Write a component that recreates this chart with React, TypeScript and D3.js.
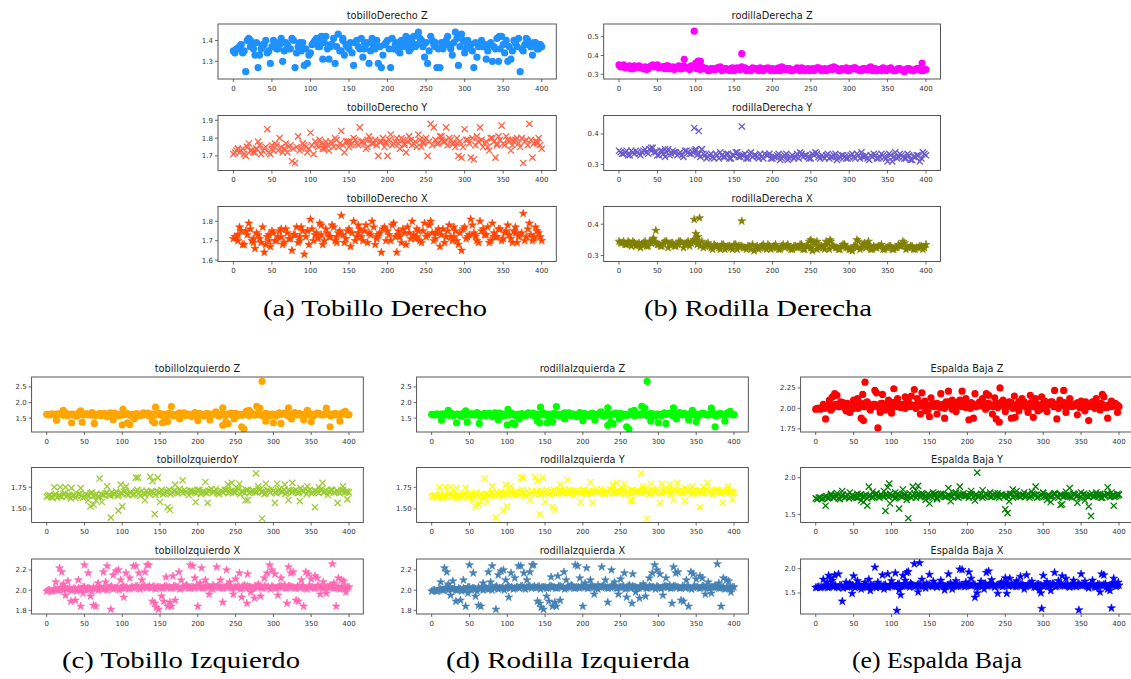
import * as d3 from "d3";
import React from "react";

// x axis is the frame index 0..400
const xTicks = [0, 50, 100, 150, 200, 250, 300, 350, 400];

type Pt = [number, number];

// ---- (a) tobillo derecho
// *Z / *Y / *X: readings at frames 0,4,...,400 ; *Mid: frames 2,6,...,398 ; *Extra: stray points [frame, value]
const tobilloDerechoZ = [
  1.35, 1.36, 1.37, 1.34, 1.25, 1.41, 1.38, 1.33, 1.27, 1.36, 1.38, 1.34, 1.29, 1.4, 1.36, 1.38, 1.3, 1.39, 1.36, 1.41,
  1.27, 1.37, 1.35, 1.28, 1.29, 1.34, 1.39, 1.41, 1.37, 1.31, 1.42, 1.31, 1.38, 1.29, 1.43, 1.35, 1.33, 1.37, 1.39, 1.28,
  1.4, 1.36, 1.32, 1.38, 1.29, 1.41, 1.36, 1.29, 1.27, 1.38, 1.4, 1.27, 1.36, 1.39, 1.34, 1.38, 1.42, 1.35, 1.39, 1.37,
  1.44, 1.4, 1.32, 1.29, 1.42, 1.38, 1.27, 1.27, 1.36, 1.4, 1.38, 1.33, 1.44, 1.28, 1.43, 1.34, 1.4, 1.38, 1.27, 1.32,
  1.39, 1.37, 1.31, 1.38, 1.3, 1.36, 1.3, 1.42, 1.34, 1.3, 1.31, 1.4, 1.37, 1.25, 1.35, 1.41, 1.38, 1.33, 1.39, 1.36, 1.37,
];
const tobilloDerechoZMid = [
  1.34, 1.36, 1.38, 1.35, 1.4, 1.37, 1.36, 1.39, 1.33, 1.38, 1.4, 1.35, 1.37, 1.39, 1.36, 1.41, 1.35, 1.38, 1.36, 1.4,
  1.34, 1.37, 1.39, 1.36, 1.33, 1.38, 1.4, 1.37, 1.42, 1.39, 1.36, 1.38, 1.41, 1.37, 1.35, 1.4, 1.38, 1.36, 1.34, 1.39,
  1.37, 1.41, 1.36, 1.39, 1.35, 1.38, 1.4, 1.37, 1.33, 1.39, 1.36, 1.41, 1.38, 1.35, 1.4, 1.37, 1.39, 1.36, 1.42, 1.38,
  1.41, 1.37, 1.39, 1.35, 1.4, 1.37, 1.36, 1.39, 1.38, 1.42, 1.36, 1.39, 1.41, 1.37, 1.4, 1.36, 1.38, 1.35, 1.39, 1.37,
  1.4, 1.38, 1.35, 1.39, 1.37, 1.41, 1.36, 1.38, 1.4, 1.37, 1.35, 1.39, 1.41, 1.36, 1.38, 1.4, 1.37, 1.39, 1.36, 1.38,
];
const tobilloDerechoZExtra: Pt[] = [
  [10, 1.38], [22, 1.4], [38, 1.37], [55, 1.39], [70, 1.37], [86, 1.39], [110, 1.4], [126, 1.37], [142, 1.41],
  [170, 1.39], [182, 1.37], [215, 1.37], [230, 1.41], [262, 1.39], [282, 1.37], [302, 1.39], [326, 1.38], [345, 1.42],
  [366, 1.39], [386, 1.37], [398, 1.38],
];

const tobilloDerechoY = [
  1.71, 1.73, 1.72, 1.74, 1.7, 1.77, 1.73, 1.72, 1.78, 1.71, 1.74, 1.85, 1.71, 1.73, 1.76, 1.8, 1.72, 1.77, 1.75, 1.67,
  1.66, 1.81, 1.74, 1.76, 1.72, 1.83, 1.71, 1.76, 1.79, 1.74, 1.78, 1.73, 1.77, 1.8, 1.75, 1.84, 1.72, 1.78, 1.76, 1.8,
  1.77, 1.86, 1.78, 1.74, 1.81, 1.77, 1.79, 1.7, 1.78, 1.75, 1.7, 1.82, 1.77, 1.8, 1.74, 1.79, 1.72, 1.81, 1.76, 1.78,
  1.82, 1.75, 1.79, 1.7, 1.88, 1.86, 1.77, 1.81, 1.78, 1.86, 1.8, 1.77, 1.75, 1.7, 1.69, 1.85, 1.79, 1.69, 1.68, 1.81,
  1.86, 1.75, 1.78, 1.73, 1.8, 1.69, 1.81, 1.87, 1.76, 1.79, 1.73, 1.78, 1.8, 1.75, 1.66, 1.79, 1.88, 1.69, 1.78, 1.8, 1.74,
];
const tobilloDerechoYMid = [
  1.72, 1.74, 1.73, 1.71, 1.75, 1.73, 1.72, 1.74, 1.76, 1.73, 1.75, 1.72, 1.74, 1.77, 1.73, 1.75, 1.74, 1.72, 1.76, 1.74,
  1.75, 1.73, 1.77, 1.75, 1.74, 1.76, 1.78, 1.75, 1.77, 1.74, 1.76, 1.78, 1.75, 1.79, 1.77, 1.76, 1.78, 1.75, 1.77, 1.79,
  1.76, 1.78, 1.77, 1.75, 1.79, 1.77, 1.76, 1.78, 1.8, 1.77, 1.79, 1.76, 1.78, 1.77, 1.8, 1.76, 1.78, 1.79, 1.77, 1.75,
  1.79, 1.77, 1.8, 1.78, 1.76, 1.79, 1.77, 1.81, 1.78, 1.76, 1.79, 1.77, 1.8, 1.78, 1.75, 1.79, 1.77, 1.8, 1.76, 1.78,
  1.79, 1.77, 1.75, 1.8, 1.78, 1.76, 1.79, 1.77, 1.81, 1.78, 1.76, 1.79, 1.77, 1.8, 1.78, 1.76, 1.79, 1.77, 1.78, 1.76,
];
const tobilloDerechoYExtra: Pt[] = [
  [6, 1.74], [18, 1.75], [30, 1.74], [50, 1.76], [66, 1.74], [90, 1.77], [118, 1.76], [150, 1.78], [174, 1.79],
  [198, 1.78], [222, 1.77], [246, 1.78], [270, 1.79], [290, 1.77], [318, 1.78], [342, 1.77], [362, 1.79], [394, 1.77],
];

const tobilloDerechoX = [
  1.71, 1.72, 1.77, 1.68, 1.75, 1.79, 1.7, 1.66, 1.73, 1.69, 1.64, 1.72, 1.67, 1.74, 1.7, 1.75, 1.68, 1.76, 1.71, 1.65,
  1.73, 1.69, 1.77, 1.63, 1.75, 1.81, 1.7, 1.74, 1.79, 1.68, 1.76, 1.72, 1.78, 1.7, 1.74, 1.83, 1.69, 1.75, 1.67, 1.8,
  1.72, 1.76, 1.7, 1.78, 1.74, 1.8, 1.68, 1.73, 1.64, 1.77, 1.75, 1.7, 1.79, 1.64, 1.72, 1.76, 1.68, 1.74, 1.8, 1.71,
  1.75, 1.69, 1.79, 1.73, 1.8, 1.7, 1.74, 1.67, 1.76, 1.72, 1.78, 1.7, 1.75, 1.68, 1.65, 1.77, 1.72, 1.81, 1.74, 1.7,
  1.8, 1.76, 1.73, 1.69, 1.79, 1.72, 1.76, 1.7, 1.74, 1.78, 1.71, 1.75, 1.69, 1.73, 1.84, 1.72, 1.79, 1.7, 1.77, 1.74, 1.7,
];
const tobilloDerechoXMid = [
  1.72, 1.7, 1.75, 1.68, 1.73, 1.76, 1.69, 1.74, 1.71, 1.77, 1.68, 1.73, 1.75, 1.7, 1.72, 1.76, 1.69, 1.74, 1.71, 1.73,
  1.77, 1.7, 1.75, 1.72, 1.68, 1.76, 1.73, 1.71, 1.78, 1.7, 1.74, 1.72, 1.77, 1.69, 1.75, 1.73, 1.71, 1.76, 1.74, 1.7,
  1.78, 1.72, 1.75, 1.69, 1.73, 1.77, 1.71, 1.74, 1.76, 1.7, 1.73, 1.78, 1.72, 1.75, 1.69, 1.74, 1.77, 1.71, 1.73, 1.76,
  1.7, 1.75, 1.72, 1.78, 1.74, 1.71, 1.76, 1.73, 1.69, 1.75, 1.72, 1.77, 1.7, 1.74, 1.76, 1.71, 1.73, 1.78, 1.72, 1.69,
  1.75, 1.73, 1.77, 1.7, 1.74, 1.72, 1.76, 1.71, 1.75, 1.73, 1.69, 1.77, 1.72, 1.74, 1.7, 1.76, 1.73, 1.71, 1.75, 1.72,
];
const tobilloDerechoXExtra: Pt[] = [
  [6, 1.73], [26, 1.71], [46, 1.7], [62, 1.72], [86, 1.72], [114, 1.73], [134, 1.72], [162, 1.74], [186, 1.72],
  [214, 1.73], [238, 1.72], [262, 1.74], [286, 1.72], [314, 1.73], [338, 1.72], [366, 1.74], [390, 1.72],
];

// ---- (b) rodilla derecha
const rodillaDerechaZ = [
  0.35, 0.345, 0.335, 0.34, 0.33, 0.345, 0.335, 0.34, 0.33, 0.325, 0.34, 0.35, 0.345, 0.335, 0.34, 0.33, 0.345, 0.335,
  0.325, 0.34, 0.33, 0.345, 0.335, 0.325, 0.34, 0.335, 0.345, 0.34, 0.33, 0.32, 0.33, 0.325, 0.335, 0.34, 0.325, 0.33,
  0.32, 0.335, 0.325, 0.33, 0.34, 0.335, 0.325, 0.32, 0.33, 0.325, 0.335, 0.32, 0.33, 0.325, 0.33, 0.32, 0.335, 0.34,
  0.325, 0.33, 0.32, 0.325, 0.335, 0.32, 0.33, 0.325, 0.32, 0.33, 0.325, 0.335, 0.32, 0.33, 0.325, 0.335, 0.34, 0.33,
  0.32, 0.325, 0.335, 0.32, 0.33, 0.335, 0.325, 0.32, 0.33, 0.325, 0.34, 0.33, 0.32, 0.325, 0.335, 0.32, 0.33, 0.325,
  0.32, 0.33, 0.325, 0.315, 0.33, 0.325, 0.32, 0.33, 0.325, 0.32, 0.325,
];
const rodillaDerechaZMid = [
  0.34, 0.35, 0.335, 0.345, 0.33, 0.34, 0.345, 0.335, 0.34, 0.33, 0.345, 0.34, 0.35, 0.335, 0.34, 0.345, 0.33, 0.34,
  0.335, 0.345, 0.33, 0.34, 0.335, 0.345, 0.34, 0.33, 0.325, 0.335, 0.33, 0.32, 0.33, 0.325, 0.335, 0.32, 0.33, 0.325,
  0.33, 0.32, 0.335, 0.325, 0.33, 0.32, 0.325, 0.335, 0.33, 0.32, 0.325, 0.33, 0.335, 0.32, 0.325, 0.33, 0.32, 0.335,
  0.325, 0.33, 0.32, 0.325, 0.33, 0.335, 0.32, 0.33, 0.325, 0.32, 0.335, 0.33, 0.325, 0.32, 0.33, 0.325, 0.335, 0.32,
  0.33, 0.325, 0.32, 0.33, 0.335, 0.325, 0.32, 0.33, 0.325, 0.335, 0.32, 0.33, 0.325, 0.32, 0.33, 0.325, 0.335, 0.32,
  0.325, 0.33, 0.32, 0.325, 0.33, 0.32, 0.325, 0.33, 0.32, 0.325,
];
const rodillaDerechaZExtra: Pt[] = [
  [85, 0.38], [98, 0.53], [100, 0.36], [103, 0.37], [106, 0.37], [160, 0.41], [395, 0.36],
];

const rodillaDerechaY = [
  0.345, 0.335, 0.34, 0.33, 0.345, 0.335, 0.34, 0.33, 0.345, 0.34, 0.35, 0.355, 0.34, 0.33, 0.345, 0.325, 0.35, 0.335,
  0.34, 0.33, 0.34, 0.325, 0.345, 0.335, 0.34, 0.345, 0.335, 0.35, 0.33, 0.325, 0.335, 0.32, 0.33, 0.34, 0.325, 0.335,
  0.32, 0.33, 0.34, 0.325, 0.33, 0.335, 0.32, 0.34, 0.33, 0.325, 0.335, 0.32, 0.33, 0.335, 0.32, 0.325, 0.335, 0.32,
  0.33, 0.315, 0.325, 0.32, 0.335, 0.34, 0.325, 0.33, 0.32, 0.335, 0.34, 0.325, 0.33, 0.32, 0.335, 0.325, 0.33, 0.315,
  0.325, 0.33, 0.32, 0.325, 0.335, 0.32, 0.33, 0.34, 0.325, 0.32, 0.33, 0.335, 0.32, 0.325, 0.33, 0.32, 0.335, 0.31,
  0.34, 0.325, 0.33, 0.32, 0.335, 0.315, 0.325, 0.33, 0.31, 0.34, 0.33,
];
const rodillaDerechaYMid = [
  0.34, 0.335, 0.345, 0.33, 0.34, 0.345, 0.335, 0.34, 0.35, 0.335, 0.345, 0.34, 0.33, 0.345, 0.335, 0.34, 0.33, 0.345,
  0.34, 0.335, 0.33, 0.345, 0.34, 0.335, 0.345, 0.33, 0.325, 0.335, 0.32, 0.33, 0.325, 0.335, 0.32, 0.33, 0.325, 0.335,
  0.32, 0.33, 0.34, 0.325, 0.33, 0.32, 0.335, 0.325, 0.33, 0.32, 0.325, 0.335, 0.33, 0.32, 0.325, 0.33, 0.315, 0.325,
  0.335, 0.32, 0.33, 0.325, 0.32, 0.335, 0.33, 0.325, 0.32, 0.33, 0.335, 0.32, 0.325, 0.33, 0.32, 0.325, 0.335, 0.32,
  0.33, 0.325, 0.32, 0.33, 0.325, 0.335, 0.32, 0.325, 0.33, 0.315, 0.325, 0.33, 0.32, 0.335, 0.325, 0.31, 0.33, 0.325,
  0.32, 0.335, 0.325, 0.32, 0.33, 0.315, 0.325, 0.33, 0.32, 0.335,
];
const rodillaDerechaYExtra: Pt[] = [
  [40, 0.35], [42, 0.355], [60, 0.35], [98, 0.42], [100, 0.35], [104, 0.41], [108, 0.35], [160, 0.425],
];

const rodillaDerechaX = [
  0.345, 0.34, 0.335, 0.345, 0.33, 0.34, 0.335, 0.325, 0.34, 0.33, 0.345, 0.35, 0.34, 0.335, 0.33, 0.345, 0.325, 0.34,
  0.33, 0.335, 0.345, 0.325, 0.34, 0.33, 0.345, 0.35, 0.34, 0.345, 0.33, 0.34, 0.325, 0.335, 0.33, 0.32, 0.335, 0.325,
  0.33, 0.32, 0.335, 0.33, 0.33, 0.325, 0.33, 0.32, 0.315, 0.33, 0.325, 0.335, 0.32, 0.33, 0.325, 0.335, 0.32, 0.33,
  0.325, 0.335, 0.32, 0.33, 0.325, 0.335, 0.32, 0.33, 0.345, 0.315, 0.34, 0.325, 0.33, 0.32, 0.34, 0.345, 0.33, 0.325,
  0.32, 0.335, 0.325, 0.32, 0.315, 0.33, 0.345, 0.325, 0.34, 0.335, 0.32, 0.33, 0.325, 0.33, 0.32, 0.325, 0.33, 0.32,
  0.325, 0.335, 0.33, 0.34, 0.325, 0.33, 0.32, 0.325, 0.33, 0.32, 0.335,
];
const rodillaDerechaXMid = [
  0.34, 0.345, 0.335, 0.34, 0.345, 0.33, 0.34, 0.335, 0.345, 0.33, 0.34, 0.345, 0.335, 0.33, 0.34, 0.345, 0.335, 0.34,
  0.33, 0.345, 0.34, 0.335, 0.345, 0.34, 0.35, 0.335, 0.33, 0.325, 0.335, 0.33, 0.32, 0.33, 0.325, 0.335, 0.32, 0.33,
  0.325, 0.335, 0.32, 0.33, 0.325, 0.32, 0.33, 0.335, 0.325, 0.32, 0.33, 0.325, 0.335, 0.32, 0.33, 0.325, 0.32, 0.335,
  0.33, 0.325, 0.32, 0.33, 0.325, 0.335, 0.32, 0.33, 0.325, 0.34, 0.32, 0.33, 0.325, 0.335, 0.32, 0.33, 0.325, 0.32,
  0.33, 0.335, 0.325, 0.32, 0.33, 0.325, 0.32, 0.335, 0.325, 0.33, 0.32, 0.325, 0.33, 0.335, 0.32, 0.325, 0.33, 0.32,
  0.325, 0.33, 0.335, 0.32, 0.325, 0.33, 0.32, 0.325, 0.33, 0.325,
];
const rodillaDerechaXExtra: Pt[] = [
  [45, 0.355], [48, 0.38], [98, 0.415], [100, 0.37], [103, 0.36], [105, 0.42], [160, 0.41], [250, 0.35], [258, 0.345],
  [270, 0.345], [275, 0.35], [310, 0.35], [325, 0.345], [370, 0.345],
];

// ---- (c) tobillo izquierdo, (d) rodilla izquierda (same readings in both panels)
const tobilloIzquierdoZ = [
  1.62, 1.6, 1.63, 1.59, 1.61, 1.66, 1.64, 1.58, 1.62, 1.6, 1.56, 1.65, 1.61, 1.64, 1.6, 1.68, 1.57, 1.62, 1.58, 1.65,
  1.55, 1.67, 1.61, 1.63, 1.58, 1.6, 1.66, 1.62, 1.57, 1.52, 1.64, 1.58, 1.67, 1.62, 1.56, 1.63, 1.6, 1.66, 1.59, 1.55,
  1.64, 1.61, 1.57, 1.62, 1.67, 1.65, 1.58, 1.63, 1.55, 1.68, 1.6, 1.61, 1.57, 1.65, 1.62, 1.62, 1.7, 1.56, 1.61, 1.59,
  1.63, 1.66, 1.6, 1.57, 1.62, 1.61, 1.72, 1.58, 1.64, 1.6, 1.65, 1.59, 1.6, 1.64, 1.57, 1.62, 1.58, 1.67, 1.63, 1.64,
  1.56, 1.63, 1.68, 1.6, 1.62, 1.59, 1.65, 1.61, 1.55, 1.63, 1.65, 1.6, 1.62, 1.66, 1.57, 1.61, 1.6, 1.63, 1.68, 1.63, 1.61,
];
const tobilloIzquierdoZMid = [
  1.61, 1.63, 1.6, 1.64, 1.62, 1.59, 1.65, 1.61, 1.63, 1.58, 1.66, 1.62, 1.6, 1.64, 1.61, 1.63, 1.59, 1.65, 1.62, 1.6,
  1.64, 1.61, 1.66, 1.59, 1.63, 1.61, 1.65, 1.6, 1.62, 1.64, 1.58, 1.63, 1.61, 1.66, 1.62, 1.6, 1.64, 1.61, 1.63, 1.59,
  1.65, 1.62, 1.6, 1.64, 1.61, 1.67, 1.62, 1.59, 1.63, 1.61, 1.65, 1.6, 1.62, 1.64, 1.61, 1.66, 1.59, 1.63, 1.62, 1.6,
  1.64, 1.61, 1.65, 1.62, 1.59, 1.63, 1.61, 1.66, 1.6, 1.64, 1.62, 1.58, 1.65, 1.61, 1.63, 1.6, 1.64, 1.62, 1.66, 1.61,
  1.59, 1.63, 1.62, 1.65, 1.6, 1.64, 1.61, 1.63, 1.59, 1.66, 1.62, 1.6, 1.64, 1.61, 1.63, 1.65, 1.6, 1.62, 1.64, 1.61,
];
const tobilloIzquierdoZExtra: Pt[] = [
  [13, 1.43], [22, 1.75], [33, 1.35], [45, 1.73], [47, 1.37], [63, 1.33], [88, 1.45], [100, 1.28], [101, 1.78],
  [107, 1.35], [110, 1.29], [116, 1.48], [140, 1.4], [143, 1.35], [144, 1.85], [153, 1.35], [160, 1.39], [165, 1.87],
  [176, 1.47], [200, 1.42], [216, 1.44], [233, 1.83], [233, 1.27], [237, 1.37], [240, 1.32], [248, 1.47], [258, 1.22],
  [261, 1.15], [268, 1.75], [278, 1.88], [282, 1.82], [285, 2.68], [290, 1.4], [300, 1.35], [310, 1.33], [320, 1.83],
  [324, 1.47], [340, 1.45], [345, 1.75], [350, 1.38], [370, 1.82], [375, 1.22], [388, 1.4], [395, 1.72],
];

const tobilloIzquierdoY = [
  1.64, 1.66, 1.63, 1.67, 1.65, 1.64, 1.68, 1.66, 1.62, 1.66, 1.65, 1.67, 1.63, 1.67, 1.65, 1.69, 1.66, 1.64, 1.67, 1.66,
  1.69, 1.65, 1.67, 1.7, 1.66, 1.68, 1.71, 1.66, 1.69, 1.67, 1.72, 1.65, 1.68, 1.71, 1.67, 1.7, 1.66, 1.69, 1.72, 1.68,
  1.7, 1.67, 1.71, 1.69, 1.73, 1.68, 1.7, 1.66, 1.71, 1.69, 1.72, 1.67, 1.7, 1.68, 1.71, 1.69, 1.73, 1.67, 1.7, 1.72,
  1.68, 1.71, 1.69, 1.74, 1.67, 1.7, 1.72, 1.68, 1.71, 1.69, 1.73, 1.7, 1.67, 1.72, 1.69, 1.71, 1.68, 1.73, 1.7, 1.67,
  1.72, 1.69, 1.71, 1.68, 1.74, 1.7, 1.67, 1.72, 1.69, 1.71, 1.68, 1.73, 1.7, 1.66, 1.72, 1.69, 1.71, 1.68, 1.72, 1.7, 1.69,
];
const tobilloIzquierdoYMid = [
  1.65, 1.64, 1.66, 1.63, 1.65, 1.67, 1.64, 1.66, 1.65, 1.63, 1.67, 1.65, 1.64, 1.66, 1.68, 1.65, 1.67, 1.64, 1.66, 1.68,
  1.66, 1.69, 1.67, 1.65, 1.68, 1.7, 1.67, 1.69, 1.66, 1.7, 1.68, 1.71, 1.67, 1.69, 1.7, 1.68, 1.71, 1.69, 1.67, 1.7,
  1.72, 1.69, 1.71, 1.68, 1.7, 1.72, 1.69, 1.71, 1.7, 1.68, 1.72, 1.7, 1.69, 1.71, 1.73, 1.7, 1.68, 1.71, 1.69, 1.72,
  1.7, 1.71, 1.69, 1.73, 1.7, 1.68, 1.72, 1.7, 1.71, 1.69, 1.72, 1.7, 1.68, 1.71, 1.73, 1.69, 1.71, 1.7, 1.72, 1.69,
  1.71, 1.7, 1.72, 1.69, 1.71, 1.73, 1.7, 1.68, 1.71, 1.7, 1.72, 1.69, 1.71, 1.7, 1.72, 1.69, 1.7, 1.71, 1.69, 1.7,
];
const tobilloIzquierdoYExtra: Pt[] = [
  [10, 1.75], [18, 1.75], [25, 1.75], [33, 1.74], [45, 1.74], [55, 1.6], [58, 1.53], [62, 1.55], [65, 1.6], [70, 1.85],
  [73, 1.58], [80, 1.76], [85, 1.4], [95, 1.48], [98, 1.78], [100, 1.53], [105, 1.76], [118, 1.86], [121, 1.86],
  [130, 1.6], [137, 1.87], [140, 1.82], [143, 1.44], [147, 1.86], [150, 1.58], [160, 1.52], [163, 1.49], [170, 1.78],
  [180, 1.83], [197, 1.58], [210, 1.81], [213, 1.57], [240, 1.78], [245, 1.8], [255, 1.79], [263, 1.6], [266, 1.6],
  [277, 1.91], [280, 1.76], [285, 1.39], [290, 1.79], [302, 1.57], [305, 1.79], [315, 1.78], [320, 1.6], [325, 1.8],
  [335, 1.59], [345, 1.76], [355, 1.52], [360, 1.75], [365, 1.8], [385, 1.57], [392, 1.76], [398, 1.61],
];

const tobilloIzquierdoX = [
  1.99, 2.0, 1.99, 2.01, 2.0, 2.02, 2.03, 2.01, 2.0, 2.02, 1.99, 2.01, 2.03, 2.0, 2.02, 1.99, 2.01, 2.0, 2.02, 2.01,
  2.0, 2.03, 2.01, 2.02, 2.0, 2.03, 2.02, 2.01, 2.03, 2.02, 2.04, 2.01, 2.03, 2.02, 2.04, 2.03, 2.01, 2.03, 2.02, 2.04,
  2.03, 2.02, 2.04, 2.03, 2.01, 2.03, 2.04, 2.02, 2.03, 2.02, 2.04, 2.03, 2.02, 2.04, 2.03, 2.01, 2.03, 2.04, 2.02, 2.03,
  2.04, 2.02, 2.03, 2.03, 2.01, 2.04, 2.02, 2.03, 2.02, 2.04, 2.03, 2.02, 2.04, 2.03, 2.01, 2.03, 2.02, 2.04, 2.03, 2.02,
  2.04, 2.03, 2.02, 2.04, 2.02, 2.03, 2.01, 2.04, 2.03, 2.02, 2.04, 2.03, 2.02, 2.03, 2.04, 2.02, 2.03, 2.01, 2.03, 2.02, 2.03,
];
const tobilloIzquierdoXMid = [
  2.0, 1.99, 2.01, 2.0, 2.02, 2.0, 2.01, 2.02, 2.0, 2.01, 2.02, 2.01, 2.03, 2.02, 2.01, 2.03, 2.02, 2.03, 2.01, 2.03,
  2.02, 2.04, 2.02, 2.03, 2.02, 2.04, 2.03, 2.02, 2.03, 2.04, 2.02, 2.03, 2.04, 2.03, 2.02, 2.04, 2.03, 2.03, 2.02, 2.04,
  2.03, 2.02, 2.04, 2.03, 2.02, 2.03, 2.04, 2.02, 2.03, 2.04, 2.03, 2.02, 2.04, 2.03, 2.02, 2.03, 2.04, 2.03, 2.02, 2.04,
  2.03, 2.02, 2.03, 2.04, 2.02, 2.03, 2.04, 2.03, 2.02, 2.03, 2.04, 2.02, 2.03, 2.03, 2.04, 2.02, 2.03, 2.04, 2.03, 2.02,
  2.04, 2.03, 2.02, 2.03, 2.04, 2.02, 2.03, 2.03, 2.02, 2.04, 2.03, 2.02, 2.03, 2.04, 2.03, 2.02, 2.03, 2.02, 2.03, 2.03,
];
const tobilloIzquierdoXExtra: Pt[] = [
  [12, 2.08], [17, 2.22], [20, 2.18], [22, 2.06], [25, 1.95], [28, 2.09], [32, 1.89], [38, 1.9], [42, 2.1], [45, 1.84],
  [48, 1.97], [50, 2.25], [55, 2.17], [58, 1.94], [62, 1.85], [65, 1.84], [68, 2.07], [75, 2.18], [78, 2.08], [80, 2.24],
  [85, 1.81], [88, 2.15], [92, 2.19], [95, 2.2], [98, 2.1], [102, 1.93], [105, 2.17], [110, 2.12], [115, 2.24],
  [118, 2.24], [122, 2.17], [126, 2.1], [130, 2.18], [133, 2.25], [135, 2.25], [140, 1.89], [143, 1.87], [145, 1.83],
  [148, 1.81], [152, 1.94], [155, 1.89], [158, 2.13], [160, 1.84], [163, 1.88], [165, 1.84], [167, 2.14], [170, 1.9],
  [175, 2.18], [178, 2.1], [185, 2.05], [190, 2.25], [193, 2.24], [196, 2.12], [200, 1.84], [203, 2.07], [205, 2.22],
  [210, 2.1], [215, 1.96], [220, 2.05], [225, 2.23], [230, 2.1], [233, 1.88], [238, 2.2], [242, 2.08], [247, 1.96],
  [250, 2.11], [255, 2.17], [258, 1.93], [262, 2.05], [265, 1.87], [266, 2.16], [270, 1.98], [275, 1.92], [280, 2.06],
  [283, 1.94], [288, 2.12], [292, 2.17], [295, 2.25], [298, 2.2], [302, 2.16], [306, 1.95], [310, 2.12], [315, 2.05],
  [318, 1.87], [320, 2.23], [323, 2.17], [326, 2.18], [330, 1.9], [333, 1.89], [337, 2.1], [340, 1.84], [343, 2.18],
  [346, 2.16], [350, 2.11], [355, 2.14], [358, 2.12], [362, 1.96], [366, 2.08], [370, 1.97], [375, 2.03], [378, 2.26],
  [380, 2.07], [383, 1.84], [386, 2.12], [390, 2.1], [393, 2.09], [396, 1.98],
];

// ---- (e) espalda baja
const espaldaBajaZ = [
  1.99, 2.0, 2.01, 2.0, 2.03, 1.98, 2.04, 2.05, 2.02, 2.07, 2.01, 1.99, 2.03, 2.06, 2.0, 2.04, 2.02, 2.08, 1.98, 2.05,
  2.03, 2.0, 2.06, 2.02, 2.04, 1.99, 2.07, 2.03, 2.01, 2.05, 2.08, 2.02, 2.04, 2.0, 2.06, 2.03, 2.09, 1.98, 2.04, 2.02,
  2.06, 2.01, 2.05, 2.03, 2.08, 1.99, 2.04, 2.06, 2.02, 2.07, 2.03, 2.0, 2.05, 2.02, 2.08, 2.04, 1.99, 2.06, 2.03, 2.05,
  2.01, 2.07, 2.04, 2.02, 2.06, 2.0, 2.04, 2.08, 2.03, 2.05, 2.01, 2.07, 2.03, 2.04, 1.99, 2.06, 2.02, 2.05, 2.08, 2.03,
  2.0, 2.04, 2.07, 2.02, 2.05, 2.03, 2.06, 2.01, 2.04, 2.08, 2.02, 2.05, 2.0, 2.04, 2.06, 2.03, 2.01, 2.05, 2.03, 2.04, 2.02,
];
const espaldaBajaZMid = [
  2.0, 1.99, 2.02, 2.01, 2.03, 2.0, 2.05, 2.02, 2.04, 2.01, 2.06, 2.03, 2.0, 2.05, 2.02, 2.04, 2.07, 2.01, 2.03, 2.05,
  2.02, 2.06, 2.04, 2.01, 2.03, 2.07, 2.02, 2.05, 2.03, 2.0, 2.06, 2.04, 2.02, 2.05, 2.03, 2.07, 2.01, 2.04, 2.06, 2.02,
  2.05, 2.03, 2.0, 2.06, 2.04, 2.02, 2.07, 2.03, 2.05, 2.01, 2.04, 2.06, 2.02, 2.05, 2.03, 2.07, 2.01, 2.04, 2.02, 2.06,
  2.03, 2.05, 2.01, 2.04, 2.07, 2.02, 2.05, 2.03, 2.06, 2.01, 2.04, 2.02, 2.06, 2.03, 2.05, 2.0, 2.04, 2.07, 2.02, 2.05,
  2.03, 2.06, 2.01, 2.04, 2.02, 2.05, 2.07, 2.03, 2.01, 2.05, 2.04, 2.02, 2.06, 2.03, 2.05, 2.01, 2.04, 2.02, 2.03, 2.04,
];
const espaldaBajaZExtra: Pt[] = [
  [10, 2.05], [13, 1.87], [18, 2.1], [22, 2.14], [25, 2.18], [28, 2.16], [33, 2.08], [40, 1.97], [45, 1.95], [50, 2.1],
  [55, 2.12], [58, 2.07], [60, 1.88], [62, 2.17], [63, 1.85], [65, 2.32], [68, 2.06], [75, 2.02], [78, 2.22], [80, 2.19],
  [82, 1.76], [85, 1.95], [88, 2.17], [92, 1.98], [96, 2.1], [100, 1.94], [103, 2.24], [108, 2.12], [112, 2.05],
  [118, 2.14], [122, 2.1], [126, 2.15], [130, 2.23], [134, 2.12], [138, 1.93], [140, 2.19], [145, 1.97], [150, 1.9],
  [152, 2.13], [155, 2.05], [160, 1.93], [165, 2.18], [170, 1.88], [172, 2.08], [175, 2.21], [180, 2.1], [185, 1.96],
  [190, 2.1], [193, 2.21], [198, 2.12], [202, 1.86], [205, 2.07], [208, 1.88], [210, 2.18], [215, 2.05], [220, 2.12],
  [225, 2.18], [228, 2.16], [233, 1.93], [236, 2.13], [238, 1.87], [242, 1.83], [243, 2.25], [247, 2.1], [250, 1.96],
  [255, 2.08], [258, 1.88], [262, 2.15], [263, 1.89], [268, 1.97], [272, 2.12], [275, 2.08], [280, 1.95], [283, 2.16],
  [287, 1.89], [290, 2.12], [293, 1.97], [298, 2.14], [302, 2.09], [305, 1.96], [310, 2.08], [315, 2.22], [318, 1.87],
  [322, 2.1], [327, 2.22], [330, 1.95], [335, 2.12], [340, 2.05], [345, 1.92], [350, 2.09], [355, 1.97], [360, 1.85],
  [365, 2.08], [370, 2.12], [375, 1.98], [378, 2.17], [380, 2.14], [385, 1.88], [390, 2.09], [395, 2.06], [398, 1.95],
];

const espaldaBajaY = [
  1.72, 1.73, 1.71, 1.74, 1.72, 1.76, 1.73, 1.75, 1.71, 1.77, 1.74, 1.72, 1.76, 1.74, 1.73, 1.77, 1.75, 1.72, 1.76, 1.74,
  1.78, 1.73, 1.75, 1.77, 1.74, 1.76, 1.72, 1.78, 1.75, 1.77, 1.74, 1.79, 1.75, 1.73, 1.77, 1.76, 1.74, 1.78, 1.75, 1.77,
  1.73, 1.76, 1.78, 1.74, 1.76, 1.75, 1.79, 1.73, 1.77, 1.75, 1.76, 1.78, 1.74, 1.77, 1.75, 1.73, 1.78, 1.76, 1.74, 1.79,
  1.75, 1.77, 1.74, 1.76, 1.78, 1.73, 1.77, 1.75, 1.76, 1.74, 1.78, 1.75, 1.77, 1.73, 1.76, 1.79, 1.74, 1.76, 1.75, 1.78,
  1.73, 1.77, 1.75, 1.76, 1.74, 1.78, 1.75, 1.73, 1.77, 1.76, 1.74, 1.79, 1.75, 1.77, 1.73, 1.76, 1.78, 1.74, 1.76, 1.75, 1.77,
];
const espaldaBajaYMid = [
  1.71, 1.73, 1.72, 1.75, 1.73, 1.74, 1.76, 1.72, 1.75, 1.73, 1.77, 1.74, 1.75, 1.73, 1.76, 1.74, 1.77, 1.75, 1.73, 1.76,
  1.75, 1.77, 1.74, 1.76, 1.78, 1.75, 1.73, 1.76, 1.74, 1.77, 1.75, 1.73, 1.78, 1.76, 1.74, 1.77, 1.75, 1.76, 1.73, 1.78,
  1.75, 1.77, 1.74, 1.76, 1.75, 1.78, 1.74, 1.76, 1.77, 1.75, 1.73, 1.77, 1.76, 1.74, 1.78, 1.75, 1.77, 1.74, 1.76, 1.75,
  1.73, 1.77, 1.76, 1.74, 1.78, 1.75, 1.76, 1.74, 1.77, 1.75, 1.73, 1.78, 1.76, 1.74, 1.77, 1.75, 1.76, 1.74, 1.78, 1.75,
  1.77, 1.74, 1.76, 1.75, 1.73, 1.77, 1.76, 1.74, 1.78, 1.75, 1.76, 1.74, 1.77, 1.75, 1.73, 1.76, 1.78, 1.75, 1.74, 1.76,
];
const espaldaBajaYExtra: Pt[] = [
  [13, 1.62], [20, 1.78], [28, 1.79], [35, 1.82], [45, 1.8], [55, 1.78], [60, 1.69], [63, 1.67], [68, 1.62], [70, 1.88],
  [75, 1.81], [80, 1.79], [90, 1.82], [92, 1.55], [95, 1.87], [97, 1.92], [98, 1.65], [105, 1.8], [110, 1.58],
  [115, 1.84], [120, 1.7], [122, 1.45], [128, 1.88], [132, 1.83], [135, 1.89], [140, 1.79], [145, 1.7], [150, 1.65],
  [155, 1.8], [160, 1.71], [165, 1.78], [175, 1.86], [178, 1.68], [185, 1.8], [190, 1.88], [195, 1.79], [205, 1.82],
  [210, 1.69], [213, 2.07], [220, 1.83], [230, 1.8], [240, 1.79], [250, 1.57], [253, 1.52], [255, 1.68], [260, 1.84],
  [265, 1.82], [275, 1.8], [285, 1.81], [290, 1.88], [300, 1.8], [305, 1.7], [310, 1.67], [315, 1.79], [323, 1.63],
  [325, 1.64], [330, 1.81], [335, 1.86], [340, 1.78], [345, 1.66], [350, 1.8], [355, 1.69], [360, 1.61], [363, 1.48],
  [370, 1.8], [375, 1.78], [385, 1.87], [390, 1.8], [393, 1.62], [398, 1.78],
];

const espaldaBajaX = [
  1.61, 1.63, 1.62, 1.64, 1.61, 1.65, 1.63, 1.62, 1.66, 1.6, 1.64, 1.63, 1.66, 1.61, 1.65, 1.63, 1.67, 1.62, 1.64, 1.66,
  1.61, 1.65, 1.63, 1.67, 1.62, 1.66, 1.64, 1.68, 1.63, 1.65, 1.67, 1.62, 1.66, 1.64, 1.68, 1.63, 1.65, 1.67, 1.64, 1.66,
  1.62, 1.68, 1.65, 1.63, 1.67, 1.65, 1.69, 1.64, 1.66, 1.63, 1.67, 1.65, 1.68, 1.62, 1.66, 1.64, 1.69, 1.65, 1.67, 1.63,
  1.66, 1.68, 1.64, 1.7, 1.65, 1.67, 1.63, 1.66, 1.69, 1.64, 1.67, 1.65, 1.62, 1.68, 1.66, 1.64, 1.67, 1.65, 1.69, 1.63,
  1.66, 1.68, 1.64, 1.66, 1.65, 1.69, 1.63, 1.67, 1.65, 1.68, 1.64, 1.66, 1.62, 1.68, 1.65, 1.67, 1.63, 1.66, 1.7, 1.64, 1.66,
];
const espaldaBajaXMid = [
  1.62, 1.61, 1.63, 1.65, 1.62, 1.64, 1.66, 1.61, 1.65, 1.63, 1.62, 1.66, 1.64, 1.63, 1.67, 1.62, 1.65, 1.64, 1.66, 1.63,
  1.68, 1.64, 1.66, 1.62, 1.67, 1.65, 1.63, 1.69, 1.64, 1.66, 1.65, 1.68, 1.63, 1.67, 1.65, 1.64, 1.69, 1.66, 1.63, 1.67,
  1.65, 1.68, 1.64, 1.66, 1.7, 1.65, 1.63, 1.67, 1.66, 1.64, 1.69, 1.65, 1.67, 1.63, 1.66, 1.68, 1.64, 1.7, 1.66, 1.65,
  1.67, 1.63, 1.69, 1.65, 1.66, 1.68, 1.64, 1.67, 1.65, 1.63, 1.69, 1.66, 1.64, 1.68, 1.65, 1.67, 1.63, 1.66, 1.69, 1.64,
  1.67, 1.65, 1.68, 1.63, 1.66, 1.64, 1.7, 1.65, 1.67, 1.63, 1.66, 1.68, 1.64, 1.67, 1.65, 1.69, 1.64, 1.66, 1.68, 1.65,
];
const espaldaBajaXExtra: Pt[] = [
  [10, 1.78], [15, 1.72], [17, 1.86], [20, 1.8], [22, 1.76], [25, 1.87], [30, 1.89], [35, 1.33], [40, 1.72], [45, 1.7],
  [48, 1.49], [50, 1.85], [55, 1.75], [60, 1.58], [65, 1.72], [70, 1.78], [72, 1.55], [78, 2.03], [82, 1.72], [85, 1.62],
  [88, 1.87], [90, 1.58], [95, 1.89], [100, 1.75], [105, 1.91], [107, 1.14], [110, 1.56], [112, 1.46], [115, 1.86],
  [118, 1.76], [120, 1.92], [122, 1.94], [125, 1.7], [130, 2.1], [135, 1.52], [137, 2.12], [140, 1.78], [145, 1.6],
  [150, 1.88], [155, 1.74], [160, 1.63], [165, 1.76], [170, 1.56], [175, 1.89], [180, 1.58], [185, 1.75], [190, 1.99],
  [193, 1.98], [198, 1.72], [202, 1.93], [205, 1.8], [210, 1.41], [213, 1.5], [218, 1.74], [222, 1.58], [225, 1.92],
  [228, 1.95], [232, 1.77], [236, 1.62], [240, 1.49], [245, 1.72], [250, 1.81], [252, 1.49], [256, 1.8], [260, 1.64],
  [265, 1.75], [270, 1.84], [275, 1.58], [278, 1.87], [285, 1.74], [290, 1.62], [295, 1.56], [297, 1.5], [298, 1.18],
  [300, 1.86], [305, 1.73], [310, 1.55], [315, 1.92], [320, 1.75], [325, 1.85], [330, 1.8], [335, 1.62], [340, 1.76],
  [347, 1.15], [350, 1.89], [355, 1.74], [360, 1.6], [365, 1.76], [370, 1.62], [375, 1.52], [377, 1.89], [380, 1.87],
  [385, 1.58], [388, 1.55], [390, 1.19], [393, 1.8], [396, 1.64], [399, 1.72],
];

type Marker = "o" | "x" | "*";

interface Sub {
  title: string;
  values: number[];
  mid?: number[];
  extra: Pt[];
  color: string;
  marker: Marker;
  yDomain: [number, number];
  yTicks: number[];
  yFmt: string;
}

interface Panel {
  left: number;
  right: number;
  tops: number[];
  caption: string;
  capX: number;
  capY: number;
  capW: number;
  subs: Sub[];
}

const topRow = [24, 115.5, 206.5];
const bottomRow = [377, 467.5, 559];
const AX_H = 55;

const panels: Panel[] = [
  {
    left: 218, right: 556.3, tops: topRow, caption: "(a) Tobillo Derecho", capX: 375, capY: 308, capW: 224,
    subs: [
      { title: "tobilloDerecho Z", values: tobilloDerechoZ, mid: tobilloDerechoZMid, extra: tobilloDerechoZExtra, color: "#1e90ff", marker: "o", yDomain: [1.215, 1.479], yTicks: [1.3, 1.4], yFmt: ".1f" },
      { title: "tobilloDerecho Y", values: tobilloDerechoY, mid: tobilloDerechoYMid, extra: tobilloDerechoYExtra, color: "#ff6347", marker: "x", yDomain: [1.618, 1.927], yTicks: [1.7, 1.8, 1.9], yFmt: ".1f" },
      { title: "tobilloDerecho X", values: tobilloDerechoX, mid: tobilloDerechoXMid, extra: tobilloDerechoXExtra, color: "#ff4500", marker: "*", yDomain: [1.593, 1.876], yTicks: [1.6, 1.7, 1.8], yFmt: ".1f" },
    ],
  },
  {
    left: 603.7, right: 940.5, tops: topRow, caption: "(b) Rodilla Derecha", capX: 758, capY: 308, capW: 228,
    subs: [
      { title: "rodillaDerecha Z", values: rodillaDerechaZ, mid: rodillaDerechaZMid, extra: rodillaDerechaZExtra, color: "#ff00ff", marker: "o", yDomain: [0.275, 0.568], yTicks: [0.3, 0.4, 0.5], yFmt: ".1f" },
      { title: "rodillaDerecha Y", values: rodillaDerechaY, mid: rodillaDerechaYMid, extra: rodillaDerechaYExtra, color: "#6a5acd", marker: "x", yDomain: [0.28, 0.461], yTicks: [0.3, 0.4], yFmt: ".1f" },
      { title: "rodillaDerecha X", values: rodillaDerechaX, mid: rodillaDerechaXMid, extra: rodillaDerechaXExtra, color: "#808000", marker: "*", yDomain: [0.281, 0.4565], yTicks: [0.3, 0.4], yFmt: ".1f" },
    ],
  },
  {
    left: 31.6, right: 363.3, tops: bottomRow, caption: "(c) Tobillo Izquierdo", capX: 181, capY: 660, capW: 238,
    subs: [
      { title: "tobilloIzquierdo Z", values: tobilloIzquierdoZ, mid: tobilloIzquierdoZMid, extra: tobilloIzquierdoZExtra, color: "#ffa500", marker: "o", yDomain: [1.053, 2.82], yTicks: [1.5, 2.0, 2.5], yFmt: ".1f" },
      { title: "tobilloIzquierdoY", values: tobilloIzquierdoY, mid: tobilloIzquierdoYMid, extra: tobilloIzquierdoYExtra, color: "#9acd32", marker: "x", yDomain: [1.344, 1.977], yTicks: [1.5, 1.75], yFmt: ".2f" },
      { title: "tobilloIzquierdo X", values: tobilloIzquierdoX, mid: tobilloIzquierdoXMid, extra: tobilloIzquierdoXExtra, color: "#ff69b4", marker: "*", yDomain: [1.764, 2.309], yTicks: [1.8, 2.0, 2.2], yFmt: ".1f" },
    ],
  },
  {
    left: 416.6, right: 748.3, tops: bottomRow, caption: "(d) Rodilla Izquierda", capX: 568, capY: 660, capW: 244,
    subs: [
      { title: "rodillaIzquierda Z", values: tobilloIzquierdoZ, mid: tobilloIzquierdoZMid, extra: tobilloIzquierdoZExtra, color: "#00ff00", marker: "o", yDomain: [1.053, 2.82], yTicks: [1.5, 2.0, 2.5], yFmt: ".1f" },
      { title: "rodillaIzquierda Y", values: tobilloIzquierdoY, mid: tobilloIzquierdoYMid, extra: tobilloIzquierdoYExtra, color: "#ffff00", marker: "x", yDomain: [1.344, 1.977], yTicks: [1.5, 1.75], yFmt: ".2f" },
      { title: "rodillaIzquierda X", values: tobilloIzquierdoX, mid: tobilloIzquierdoXMid, extra: tobilloIzquierdoXExtra, color: "#4682b4", marker: "*", yDomain: [1.764, 2.309], yTicks: [1.8, 2.0, 2.2], yFmt: ".1f" },
    ],
  },
  {
    left: 800.6, right: 1133.4, tops: bottomRow, caption: "(e) Espalda Baja", capX: 937, capY: 660, capW: 170,
    subs: [
      { title: "Espalda Baja Z", values: espaldaBajaZ, mid: espaldaBajaZMid, extra: espaldaBajaZExtra, color: "#ff0000", marker: "o", yDomain: [1.71, 2.384], yTicks: [1.75, 2.0, 2.25], yFmt: ".2f" },
      { title: "Espalda Baja Y", values: espaldaBajaY, mid: espaldaBajaYMid, extra: espaldaBajaYExtra, color: "#008000", marker: "x", yDomain: [1.392, 2.139], yTicks: [1.5, 2.0], yFmt: ".1f" },
      { title: "Espalda Baja X", values: espaldaBajaX, mid: espaldaBajaXMid, extra: espaldaBajaXExtra, color: "#0000ff", marker: "*", yDomain: [1.068, 2.2], yTicks: [1.5, 2.0], yFmt: ".1f" },
    ],
  },
];

const starPath = d3.symbol(d3.symbolStar, 20)() as string;
const CROSS = 3.1;
const crossPath = `M${-CROSS},${-CROSS}L${CROSS},${CROSS}M${-CROSS},${CROSS}L${CROSS},${-CROSS}`;

const Subplot = ({ sub, left, right, top, id }: { sub: Sub; left: number; right: number; top: number; id: string }) => {
  const bottom = top + AX_H;
  const x = d3.scaleLinear().domain([-19.95, 418.95]).range([left, right]);
  const y = d3.scaleLinear().domain(sub.yDomain).range([bottom, top]);
  const fmt = d3.format(sub.yFmt);
  const n = sub.values.length;
  const main: Pt[] = sub.values.map((v, i) => [(i * 400) / (n - 1), v] as Pt);
  const mid: Pt[] = (sub.mid || []).map((v, i) => [2 + i * 4, v] as Pt);
  const pts = main.concat(mid, sub.extra);

  return (
    <g>
      <clipPath id={id}>
        <rect x={left} y={top} width={right - left} height={AX_H} />
      </clipPath>
      <g clipPath={`url(#${id})`}>
        {pts.map(([px, py], i) => {
          const cx = x(px);
          const cy = y(py);
          if (sub.marker === "o") return <circle key={i} cx={cx} cy={cy} r={3.6} fill={sub.color} />;
          if (sub.marker === "x")
            return <path key={i} d={crossPath} transform={`translate(${cx},${cy})`} stroke={sub.color} strokeWidth={1.3} fill="none" />;
          return <path key={i} d={starPath} transform={`translate(${cx},${cy})`} fill={sub.color} stroke={sub.color} strokeWidth={0.6} />;
        })}
      </g>
      <rect x={left} y={top} width={right - left} height={AX_H} fill="none" stroke="#444" strokeWidth={0.9} />
      {xTicks.map((t) => (
        <g key={t}>
          <line x1={x(t)} x2={x(t)} y1={bottom} y2={bottom + 3} stroke="#444" strokeWidth={0.8} />
          <text x={x(t)} y={bottom + 11.5} textAnchor="middle" fontSize={7} fill="#333">
            {t}
          </text>
        </g>
      ))}
      {sub.yTicks.map((t) => (
        <g key={t}>
          <line x1={left - 3} x2={left} y1={y(t)} y2={y(t)} stroke="#444" strokeWidth={0.8} />
          <text x={left - 5} y={y(t)} dy="0.35em" textAnchor="end" fontSize={7} fill="#333">
            {fmt(t)}
          </text>
        </g>
      ))}
      <text x={(left + right) / 2} y={top - 5} textAnchor="middle" fontSize={9.8} fill="#1a1a1a">
        {sub.title}
      </text>
    </g>
  );
};

export default function App() {
  return (
    <svg
      width={1131}
      height={679}
      style={{ position: "absolute", left: 0, top: 0, background: "#fff" }}
      fontFamily="'DejaVu Sans', sans-serif"
    >
      <rect width={1131} height={679} fill="#fff" />
      {panels.map((p, pi) => (
        <g key={p.caption}>
          {p.subs.map((s, si) => (
            <Subplot key={s.title} sub={s} left={p.left} right={p.right} top={p.tops[si]} id={`clip-${pi}-${si}`} />
          ))}
          <text
            x={p.capX}
            y={p.capY}
            textAnchor="middle"
            dominantBaseline="central"
            fontFamily="'Liberation Serif', serif"
            fontSize={24}
            textLength={p.capW}
            lengthAdjust="spacingAndGlyphs"
            fill="#000"
          >
            {p.caption}
          </text>
        </g>
      ))}
    </svg>
  );
}
